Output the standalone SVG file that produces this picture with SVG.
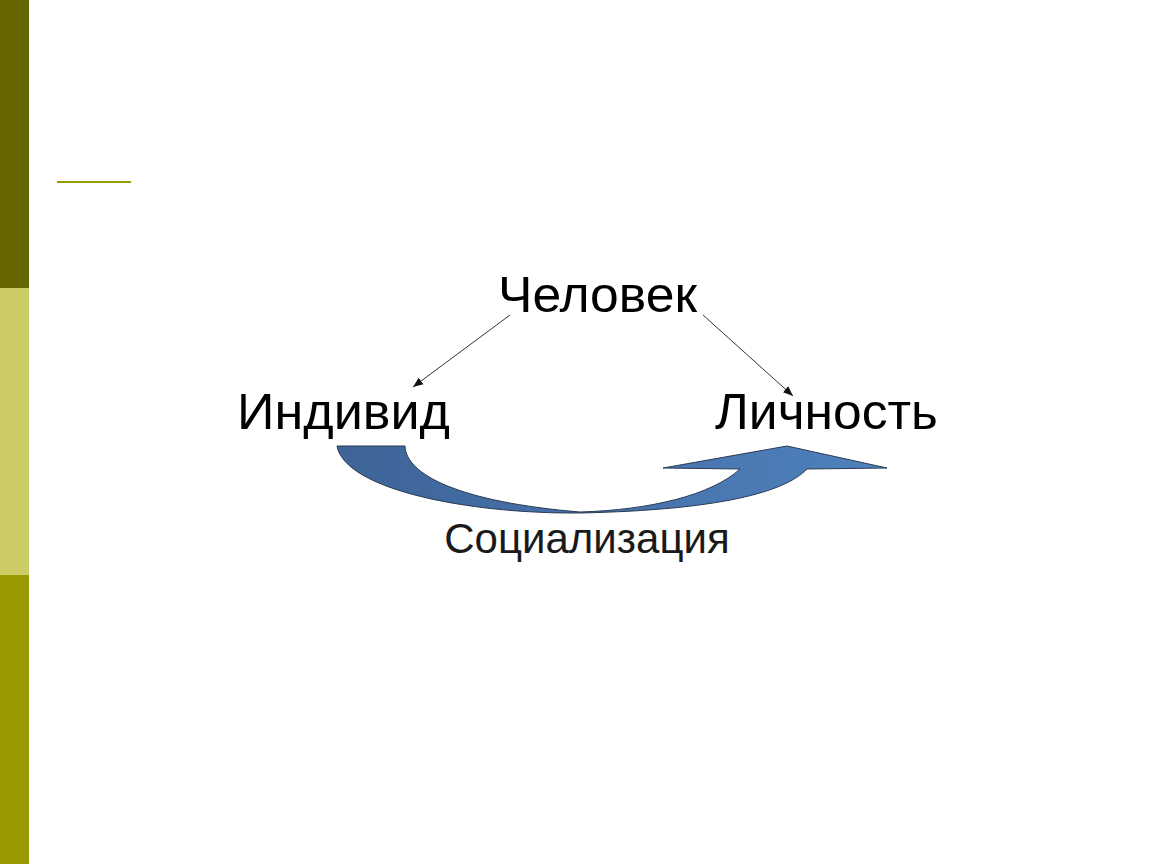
<svg xmlns="http://www.w3.org/2000/svg" width="1150" height="864" viewBox="0 0 1150 864">
  <style>
    .lbl { font-family: "Liberation Sans", Arial, sans-serif; font-size: 50px; fill: #000; text-anchor: middle; }
    .sub { font-family: "Liberation Sans", Arial, sans-serif; font-size: 42px; fill: #1a1a1a; text-anchor: middle; }
    .conn { stroke: #333; stroke-width: 1; fill: none; marker-end: url(#ah); }
  </style>
  <defs>
    <marker id="ah" viewBox="0 0 10 10" refX="10" refY="5" markerWidth="10" markerHeight="10" markerUnits="userSpaceOnUse" orient="auto">
      <path d="M0,1 L10,5 L0,9 Z" fill="#111"/>
    </marker>
    <linearGradient id="blue" x1="0" y1="0" x2="1" y2="0">
      <stop offset="0" stop-color="#3e6497"/>
      <stop offset="0.5" stop-color="#4672ab"/>
      <stop offset="1" stop-color="#4f81bd"/>
    </linearGradient>
  </defs>
  <rect width="1150" height="864" fill="#ffffff"/>
  <g id="sidebar">
    <rect x="0" y="0" width="29" height="288" fill="#666600"/>
    <rect x="0" y="288" width="29" height="287" fill="#cccc66"/>
    <rect x="0" y="575" width="29" height="289" fill="#999900"/>
    <rect x="57" y="181" width="74" height="2" fill="#999900"/>
  </g>
  <g id="connectors">
    <line class="conn" x1="510" y1="315" x2="413" y2="387"/>
    <line class="conn" x1="703" y1="315" x2="793" y2="396"/>
  </g>
  <g id="socialization-arrow">
    <path d="M337,446 L405,446 C406,475 460,502 580,512 C650,510 712,495 740,469 L663,468 L787,446 L887,468 L807,469 C785,492 720,510 580,513 C470,514 345,490 337,446 Z" fill="url(#blue)" stroke="#2b3b55" stroke-width="1"/>
  </g>
  <g id="node-chelovek">
    <text class="lbl" x="597.5" y="312" textLength="199" lengthAdjust="spacingAndGlyphs">Человек</text>
  </g>
  <g id="node-individ">
    <text class="lbl" x="343.5" y="429" textLength="213" lengthAdjust="spacingAndGlyphs">Индивид</text>
  </g>
  <g id="node-lichnost">
    <text class="lbl" x="826.5" y="429" textLength="223" lengthAdjust="spacingAndGlyphs">Личность</text>
  </g>
  <g id="label-socializaciya">
    <text class="sub" x="587" y="553">Социализация</text>
  </g>
</svg>
